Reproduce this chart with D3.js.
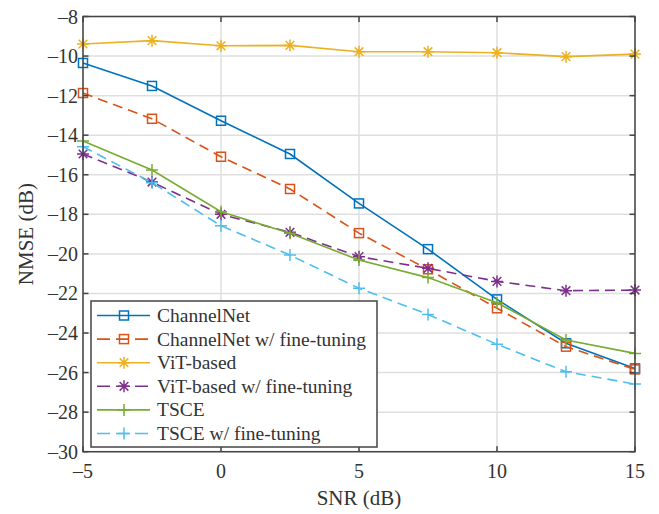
<!DOCTYPE html>
<html>
<head>
<meta charset="utf-8">
<script src="https://cdn.jsdelivr.net/npm/d3@7"></script>
<style>
  body { margin: 0; background: #fff; }
  text { font-family: "Liberation Serif", "Times New Roman", serif; fill: #333; }
</style>
</head>
<body>
<script>
var snr = [-5, -2.5, 0, 2.5, 5, 7.5, 10, 12.5, 15];

var channelNet   = [-10.35, -11.51, -13.27, -14.95, -17.45, -19.76, -22.30, -24.52, -25.79];
var channelNetFT = [-11.87, -13.17, -15.09, -16.72, -18.95, -20.78, -22.75, -24.69, -25.84];
var vit          = [-9.39, -9.22, -9.48, -9.46, -9.78, -9.78, -9.83, -10.03, -9.90];
var vitFT        = [-14.95, -16.37, -18.00, -18.91, -20.14, -20.73, -21.39, -21.86, -21.83];
var tsce         = [-14.29, -15.76, -17.87, -18.96, -20.31, -21.20, -22.47, -24.35, -25.03];
var tsceFT       = [-14.58, -16.40, -18.58, -20.06, -21.74, -23.06, -24.57, -25.96, -26.58];

var xTicks = [-5, 0, 5, 10, 15];
var yTicks = [-30, -28, -26, -24, -22, -20, -18, -16, -14, -12, -10, -8];

var series = [
  {name: "ChannelNet", values: channelNet, color: "#0072BD", dash: null, marker: "square"},
  {name: "ChannelNet w/ fine-tuning", values: channelNetFT, color: "#D95319", dash: "10,6", marker: "square"},
  {name: "ViT-based", values: vit, color: "#EDB120", dash: null, marker: "star"},
  {name: "ViT-based w/ fine-tuning", values: vitFT, color: "#7E2F8E", dash: "10,6", marker: "star"},
  {name: "TSCE", values: tsce, color: "#77AC30", dash: null, marker: "plus"},
  {name: "TSCE w/ fine-tuning", values: tsceFT, color: "#4DBEEE", dash: "10,6", marker: "plus"}
];

var width = 659, height = 514;
var pLeft = 83, pRight = 635, pTop = 16.5, pBottom = 451.7;

var svg = d3.select("body").append("svg").attr("width", width).attr("height", height);

var x = d3.scaleLinear().domain([-5, 15]).range([pLeft, pRight]);
var y = d3.scaleLinear().domain([-30, -8]).range([pBottom, pTop]);

// grid
var grid = svg.append("g");
xTicks.forEach(function(t) {
  grid.append("line").attr("x1", x(t)).attr("x2", x(t)).attr("y1", pTop).attr("y2", pBottom)
    .attr("stroke", "#dfdfdf").attr("stroke-width", 1.5);
});
yTicks.forEach(function(t) {
  grid.append("line").attr("x1", pLeft).attr("x2", pRight).attr("y1", y(t)).attr("y2", y(t))
    .attr("stroke", "#dfdfdf").attr("stroke-width", 1.5);
});

// markers
function drawMarker(g, type, cx, cy, color) {
  if (type === "square") {
    g.append("rect").attr("x", cx - 4.5).attr("y", cy - 4.5).attr("width", 9).attr("height", 9)
      .attr("fill", "none").attr("stroke", color).attr("stroke-width", 1.5);
  } else if (type === "plus") {
    g.append("path").attr("d", "M" + (cx - 6) + "," + cy + "H" + (cx + 6) + "M" + cx + "," + (cy - 6) + "V" + (cy + 6))
      .attr("stroke", color).attr("stroke-width", 1.5).attr("fill", "none");
  } else {
    var r = 6, d = r * 0.72;
    g.append("path").attr("d",
      "M" + (cx - r) + "," + cy + "H" + (cx + r) +
      "M" + cx + "," + (cy - r) + "V" + (cy + r) +
      "M" + (cx - d) + "," + (cy - d) + "L" + (cx + d) + "," + (cy + d) +
      "M" + (cx - d) + "," + (cy + d) + "L" + (cx + d) + "," + (cy - d))
      .attr("stroke", color).attr("stroke-width", 1.5).attr("fill", "none");
  }
}

var line = d3.line().x(function(d, i) { return x(snr[i]); }).y(function(d) { return y(d); });

var plot = svg.append("g");
series.forEach(function(s) {
  plot.append("path").datum(s.values).attr("d", line)
    .attr("fill", "none").attr("stroke", s.color).attr("stroke-width", 1.6)
    .attr("stroke-dasharray", s.dash);
  s.values.forEach(function(v, i) {
    drawMarker(plot, s.marker, x(snr[i]), y(v), s.color);
  });
});

// axes box
var axisColor = "#444";
svg.append("rect").attr("x", pLeft).attr("y", pTop).attr("width", pRight - pLeft).attr("height", pBottom - pTop)
  .attr("fill", "none").attr("stroke", axisColor).attr("stroke-width", 1.5);

var tickLen = 5.5;
var ticks = svg.append("g").attr("stroke", axisColor).attr("stroke-width", 1.5);
xTicks.forEach(function(t) {
  ticks.append("line").attr("x1", x(t)).attr("x2", x(t)).attr("y1", pBottom).attr("y2", pBottom - tickLen);
  ticks.append("line").attr("x1", x(t)).attr("x2", x(t)).attr("y1", pTop).attr("y2", pTop + tickLen);
});
yTicks.forEach(function(t) {
  ticks.append("line").attr("x1", pLeft).attr("x2", pLeft + tickLen).attr("y1", y(t)).attr("y2", y(t));
  ticks.append("line").attr("x1", pRight).attr("x2", pRight - tickLen).attr("y1", y(t)).attr("y2", y(t));
});

function fmt(t) { return t < 0 ? "\u2013" + Math.abs(t) : String(t); }

xTicks.forEach(function(t) {
  svg.append("text").attr("x", x(t)).attr("y", 478).attr("text-anchor", "middle")
    .attr("font-size", 20).text(fmt(t));
});
yTicks.forEach(function(t) {
  svg.append("text").attr("x", 78).attr("y", y(t)).attr("dy", "0.35em").attr("text-anchor", "end")
    .attr("font-size", 20).text(fmt(t));
});

svg.append("text").attr("x", (pLeft + pRight) / 2).attr("y", 505).attr("text-anchor", "middle")
  .attr("font-size", 21).text("SNR (dB)");
svg.append("text").attr("transform", "translate(33," + ((pTop + pBottom) / 2) + ") rotate(-90)")
  .attr("text-anchor", "middle").attr("font-size", 21).text("NMSE (dB)");

// legend
var legend = svg.append("g");
legend.append("rect").attr("x", 91).attr("y", 301).attr("width", 286).attr("height", 146)
  .attr("fill", "#fff").attr("stroke", axisColor).attr("stroke-width", 1.5);
series.forEach(function(s, i) {
  var ly = 315.5 + i * 23.6;
  legend.append("line").attr("x1", 97).attr("x2", 150).attr("y1", ly).attr("y2", ly)
    .attr("stroke", s.color).attr("stroke-width", 1.6).attr("stroke-dasharray", s.dash ? "13,6" : null);
  drawMarker(legend, s.marker, 124, ly, s.color);
  legend.append("text").attr("x", 157).attr("y", ly).attr("dy", "0.33em")
    .attr("font-size", 19.5).text(s.name);
});
</script>
</body>
</html>
